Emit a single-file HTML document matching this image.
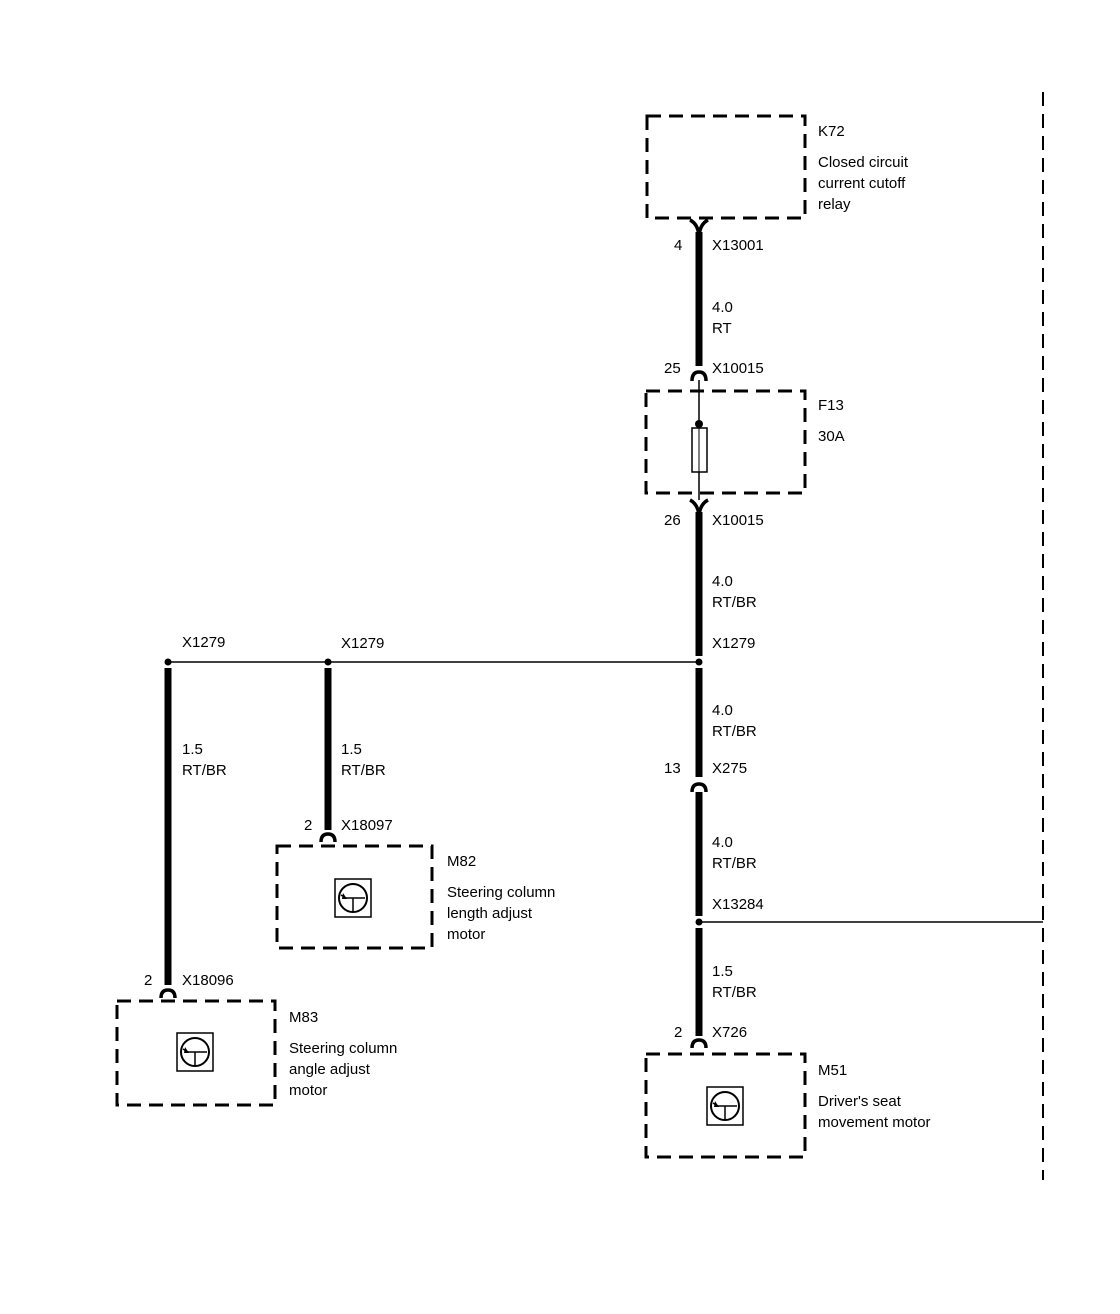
<!DOCTYPE html>
<html><head><meta charset="utf-8"><style>
html,body{margin:0;padding:0;background:#fff;}
svg{display:block;}
text{font-family:"Liberation Sans",Arial,sans-serif;font-size:15px;fill:#000;}
</style></head><body>
<svg width="1120" height="1314" viewBox="0 0 1120 1314" xmlns="http://www.w3.org/2000/svg">
<defs>
<g id="motor">
<rect x="-18" y="-19" width="36" height="38" fill="none" stroke="#000" stroke-width="1.5"/>
<circle cx="0" cy="0" r="14" fill="none" stroke="#000" stroke-width="2"/>
<path d="M-12,-3 L-7,0 L12,0 M0,0 L0,13" fill="none" stroke="#000" stroke-width="1.5"/>
<path d="M-10,-5 L-6,1 L-11,1 Z" fill="#000"/>
</g>
</defs>
<g fill="none" stroke="#000" stroke-width="3" stroke-dasharray="14,8">
<rect x="647" y="116" width="158" height="102"/>
<rect x="646" y="391" width="159" height="102"/>
<rect x="277" y="846" width="155" height="102"/>
<rect x="117" y="1001" width="158" height="104"/>
<rect x="646" y="1054" width="159" height="103"/>
</g>
<line x1="1043" y1="92" x2="1043" y2="1180" stroke="#000" stroke-width="2" stroke-dasharray="14,8"/>
<g stroke="#000" stroke-width="7" fill="none">
<line x1="699" y1="232" x2="699" y2="366"/>
<line x1="699" y1="512" x2="699" y2="656"/>
<line x1="699" y1="668" x2="699" y2="777"/>
<line x1="699" y1="792" x2="699" y2="916"/>
<line x1="699" y1="928" x2="699" y2="1036"/>
<line x1="168" y1="668" x2="168" y2="985"/>
<line x1="328" y1="668" x2="328" y2="830"/>
</g>
<g stroke="#000" stroke-width="3.5" fill="none">
<path d="M690,220 Q698,224 699,236 Q700,224 708,220"/>
<path d="M690,500 Q698,504 699,516 Q700,504 708,500"/>
<path d="M692,381 Q692,372 699,372 Q706,372 706,381"/>
<path d="M692,792 Q692,784 699,784 Q706,784 706,792"/>
<path d="M692,1048 Q692,1040 699,1040 Q706,1040 706,1048"/>
<path d="M161,998 Q161,990 168,990 Q175,990 175,998"/>
<path d="M321,842 Q321,834 328,834 Q335,834 335,842"/>
</g>
<line x1="699" y1="380" x2="699" y2="500" stroke="#000" stroke-width="1.5"/>
<circle cx="699" cy="424" r="4" fill="#000"/>
<rect x="692" y="428" width="15" height="44" fill="#fff" stroke="#000" stroke-width="1.5"/>
<line x1="699" y1="428" x2="699" y2="472" stroke="#000" stroke-width="1"/>
<line x1="168" y1="662" x2="699" y2="662" stroke="#000" stroke-width="1.5"/>
<line x1="699" y1="922" x2="1043" y2="922" stroke="#000" stroke-width="1.5"/>
<circle cx="168" cy="662" r="3.5" fill="#000"/>
<circle cx="328" cy="662" r="3.5" fill="#000"/>
<circle cx="699" cy="662" r="3.5" fill="#000"/>
<circle cx="699" cy="922" r="3.5" fill="#000"/>
<use href="#motor" x="353" y="898"/>
<use href="#motor" x="195" y="1052"/>
<use href="#motor" x="725" y="1106"/>
<text x="818" y="136">K72</text>
<text x="818" y="167">Closed circuit</text>
<text x="818" y="188">current cutoff</text>
<text x="818" y="209">relay</text>
<text x="674" y="250">4</text>
<text x="712" y="250">X13001</text>
<text x="712" y="312">4.0</text>
<text x="712" y="333">RT</text>
<text x="664" y="373">25</text>
<text x="712" y="373">X10015</text>
<text x="818" y="410">F13</text>
<text x="818" y="441">30A</text>
<text x="664" y="525">26</text>
<text x="712" y="525">X10015</text>
<text x="712" y="586">4.0</text>
<text x="712" y="607">RT/BR</text>
<text x="712" y="648">X1279</text>
<text x="182" y="647">X1279</text>
<text x="341" y="648">X1279</text>
<text x="712" y="715">4.0</text>
<text x="712" y="736">RT/BR</text>
<text x="664" y="773">13</text>
<text x="712" y="773">X275</text>
<text x="182" y="754">1.5</text>
<text x="182" y="775">RT/BR</text>
<text x="341" y="754">1.5</text>
<text x="341" y="775">RT/BR</text>
<text x="304" y="830">2</text>
<text x="341" y="830">X18097</text>
<text x="447" y="866">M82</text>
<text x="447" y="897">Steering column</text>
<text x="447" y="918">length adjust</text>
<text x="447" y="939">motor</text>
<text x="712" y="847">4.0</text>
<text x="712" y="868">RT/BR</text>
<text x="712" y="909">X13284</text>
<text x="712" y="976">1.5</text>
<text x="712" y="997">RT/BR</text>
<text x="674" y="1037">2</text>
<text x="712" y="1037">X726</text>
<text x="144" y="985">2</text>
<text x="182" y="985">X18096</text>
<text x="289" y="1022">M83</text>
<text x="289" y="1053">Steering column</text>
<text x="289" y="1074">angle adjust</text>
<text x="289" y="1095">motor</text>
<text x="818" y="1075">M51</text>
<text x="818" y="1106">Driver's seat</text>
<text x="818" y="1127">movement motor</text>
</svg>
</body></html>
